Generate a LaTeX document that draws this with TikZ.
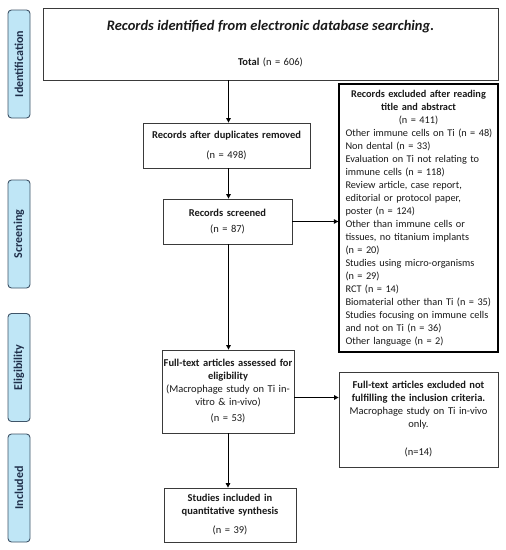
\documentclass[tikz,border=0pt]{standalone}
\usepackage{fontspec}
\setmainfont{Carlito}
\usetikzlibrary{arrows.meta}
\definecolor{txt}{HTML}{1A1A1A}
\definecolor{boxc}{HTML}{3A3A3A}
\definecolor{sidefill}{HTML}{BFE6F6}
\definecolor{sidebord}{HTML}{3F5468}
\definecolor{sidetxt}{HTML}{1F2F4A}
\newcommand\xl[1]{\mbox{#1}}
\begin{document}
\begin{tikzpicture}[x=1pt,y=-1pt,
  box/.style={draw=boxc, line width=0.8pt, fill=white, inner sep=0pt, align=center,
    text=txt, font=\fontsize{10.5}{13}\selectfont},
  side/.style={draw=sidebord, line width=0.9pt, fill=sidefill, rounded corners=3.5pt,
    rotate=90, minimum width=108pt, minimum height=22pt, inner sep=0pt,
    text=sidetxt, font=\fontsize{12}{14}\selectfont\bfseries},
  arr/.style={-{Triangle[length=4.5pt,width=4.5pt]}, line width=1pt, draw=black}]
\useasboundingbox (0,0) rectangle (506,550);
\fill[white] (0,0) rectangle (506,550);

% side labels
\node[side] (sid) at (19,64) {Identification};
\node[side] (sscr) at (19,234) {Screening};
\node[side] (seli) at (19,367.5) {Eligibility};
\node[side] (sinc) at (19,488) {Included};

% boxes
\node[box, minimum width=455pt, minimum height=72pt, text width=440pt] (top) at (270.5,44)
  {{\fontsize{14.5}{16}\selectfont\bfseries\itshape Records identified from electronic database searching.}\\[22pt]
   {\bfseries Total} (n = 606)};

\node[box, minimum width=167pt, minimum height=45pt, text width=165pt] (dup) at (226.5,145.5)
  {{\bfseries Records after duplicates removed}\\[7pt](n = 498)};

\node[box, minimum width=129pt, minimum height=45pt, text width=127pt] (scr) at (227.5,221.5)
  {{\bfseries Records screened}\\[3pt](n = 87)};

\node[box, line width=1.3pt, draw=black, minimum width=159pt, minimum height=268pt,
  text width=146pt, align=left, font=\fontsize{10.3}{13.0}\selectfont] (exc) at (418.5,218)
  {\makebox[146pt][c]{\bfseries Records excluded after reading}\\
   \makebox[146pt][c]{\bfseries title and abstract}\\
   \makebox[146pt][c]{(n = 411)}\\
   \xl{Other immune cells on Ti (n = 48)}\\
   \xl{Non dental (n = 33)}\\
   \xl{Evaluation on Ti not relating to}\\
   \xl{immune cells (n = 118)}\\
   \xl{Review article, case report,}\\
   \xl{editorial or protocol paper,}\\
   \xl{poster (n = 124)}\\
   \xl{Other than immune cells or}\\
   \xl{tissues, no titanium implants}\\
   \xl{(n = 20)}\\
   \xl{Studies using micro-organisms}\\
   \xl{(n = 29)}\\
   \xl{RCT (n = 14)}\\
   \xl{Biomaterial other than Ti (n = 35)}\\
   \xl{Studies focusing on immune cells}\\
   \xl{and not on Ti (n = 36)}\\
   \xl{Other language (n = 2)}};

\node[box, minimum width=132pt, minimum height=83pt, text width=132pt] (full) at (228,391.5)
  {{\bfseries Full-text articles assessed for}\\
   {\bfseries eligibility}\\
   (Macrophage study on Ti in-\\
   vitro \& in-vivo)\\[3pt]
   (n = 53)};

\node[box, minimum width=159pt, minimum height=95pt, text width=150pt] (fexc) at (418.5,419.5)
  {{\bfseries Full-text articles excluded not}\\
   {\bfseries fulfilling the inclusion criteria.}\\
   Macrophage study on Ti in-vivo\\
   only.\\[15pt]
   (n=14)};

\node[box, minimum width=132pt, minimum height=54pt, text width=130pt] (inc) at (230,515)
  {{\bfseries Studies included in}\\
   {\bfseries quantitative synthesis}\\[6pt]
   (n = 39)};

% arrows
\draw[arr] ([xshift=2pt]dup.north |- top.south) -- ([xshift=2pt]dup.north);
\draw[arr] ([xshift=2pt]dup.south) -- ([xshift=2pt]dup.south |- scr.north);
\draw[arr] (scr.east) -- (scr.east -| exc.west);
\draw[arr] ([xshift=1pt]scr.south) -- ([xshift=1pt]scr.south |- full.north);
\draw[arr] ([yshift=-6pt]full.east) -- ([yshift=-6pt]full.east -| fexc.west);
\draw[arr] (full.south) -- (full.south |- inc.north);
\end{tikzpicture}
\end{document}
